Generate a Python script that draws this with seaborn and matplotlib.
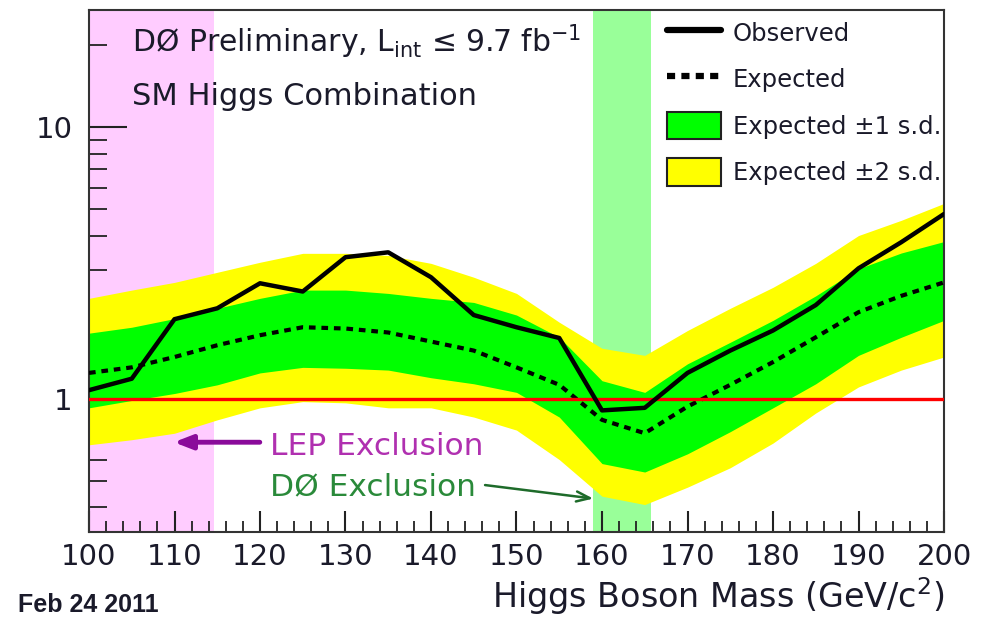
import matplotlib
matplotlib.use("Agg")
import matplotlib.pyplot as plt
import seaborn as sns
import numpy as np
import pandas as pd
from matplotlib import font_manager
from matplotlib.lines import Line2D
from matplotlib.patches import Patch
from matplotlib.ticker import LogLocator, NullFormatter, FixedLocator, FixedFormatter, MultipleLocator

# ---- data (ratio to SM, 95% CL limit) ----
mass = [100, 105, 110, 115, 120, 125, 130, 135, 140, 145, 150, 155, 160, 165, 170, 175, 180, 185, 190, 195, 200]
observed = [1.08, 1.19, 1.97, 2.16, 2.67, 2.49, 3.33, 3.47, 2.81, 2.04, 1.84, 1.68, 0.91, 0.93, 1.25, 1.51, 1.79, 2.22, 3.03, 3.78, 4.80]
expected = [1.25, 1.31, 1.43, 1.58, 1.72, 1.84, 1.82, 1.76, 1.63, 1.51, 1.31, 1.13, 0.84, 0.75, 0.94, 1.13, 1.37, 1.69, 2.09, 2.40, 2.69]
sd1_up = [1.75, 1.84, 1.98, 2.16, 2.35, 2.52, 2.52, 2.45, 2.35, 2.27, 2.04, 1.69, 1.17, 1.06, 1.35, 1.62, 1.95, 2.40, 3.02, 3.45, 3.80]
sd1_dn = [0.93, 0.99, 1.05, 1.13, 1.25, 1.31, 1.30, 1.28, 1.20, 1.14, 1.06, 0.86, 0.58, 0.54, 0.63, 0.76, 0.93, 1.14, 1.45, 1.69, 1.95]
sd2_up = [2.35, 2.52, 2.69, 2.93, 3.19, 3.44, 3.44, 3.38, 3.16, 2.81, 2.45, 1.92, 1.54, 1.45, 1.79, 2.16, 2.58, 3.16, 4.00, 4.55, 5.25]
sd2_dn = [0.68, 0.71, 0.75, 0.84, 0.93, 0.98, 0.97, 0.93, 0.93, 0.86, 0.77, 0.60, 0.44, 0.41, 0.475, 0.56, 0.69, 0.89, 1.11, 1.28, 1.43]
lep_excl = [100, 114.6]
d0_excl = [158.9, 165.7]
x_ticks = [100, 110, 120, 130, 140, 150, 160, 170, 180, 190, 200]
y_ticks = [1, 10]
y_ticklabels = ["1", "10"]

sns.set_theme(style="white")
plt.rcParams["font.family"] = ["DejaVu Sans"]
plt.rcParams["mathtext.default"] = "regular"

installed = {f.name for f in font_manager.fontManager.ttflist}
if "Liberation Sans Narrow" in installed:
    feb_family, feb_size = ["Liberation Sans Narrow", "DejaVu Sans"], 21.5
elif "Liberation Sans" in installed:
    feb_family, feb_size = ["Liberation Sans", "DejaVu Sans"], 18
else:
    feb_family, feb_size = ["DejaVu Sans"], 15.5

TXT = "#1a1a2a"

df = pd.DataFrame({"mass": mass, "observed": observed, "expected": expected,
                   "sd1_up": sd1_up, "sd1_dn": sd1_dn, "sd2_up": sd2_up, "sd2_dn": sd2_dn})

fig = plt.figure(figsize=(9.88, 6.18), dpi=100)
ax = fig.add_axes([89 / 988, 1 - 532 / 618, (944 - 89) / 988, (532 - 10) / 618])
ax.set_yscale("log")
ax.set_xlim(100, 200)
ax.set_ylim(0.325, 27)

ax.axvspan(*lep_excl, color="#ffccff", lw=0, zorder=0)
ax.axvspan(*d0_excl, color="#99ff99", lw=0, zorder=0)

ax.fill_between(df["mass"], df["sd2_dn"], df["sd2_up"], color="#ffff00", lw=0, zorder=1)
ax.fill_between(df["mass"], df["sd1_dn"], df["sd1_up"], color="#00ff00", lw=0, zorder=2)

sns.lineplot(data=df, x="mass", y="expected", ax=ax, color="black", lw=3.0,
             linestyle=(0, (1.6, 1.4)), zorder=4)
ax.axhline(1.0, color="#ff0000", lw=2.4, zorder=5)
sns.lineplot(data=df, x="mass", y="observed", ax=ax, color="black", lw=3.2, zorder=6)

# axes styling (ROOT-like)
for s in ax.spines.values():
    s.set_color("#333333")
    s.set_linewidth(1.5)
ax.xaxis.set_major_locator(FixedLocator(x_ticks))
ax.xaxis.set_minor_locator(MultipleLocator(2))
ax.yaxis.set_major_locator(FixedLocator(y_ticks))
ax.yaxis.set_major_formatter(FixedFormatter(y_ticklabels))
ax.yaxis.set_minor_locator(LogLocator(base=10, subs=np.arange(2, 10)))
ax.yaxis.set_minor_formatter(NullFormatter())
ax.tick_params(axis="x", which="major", direction="in", length=15, width=1.5, color="#222222",
               labelsize=21, pad=8, bottom=True, top=False, labelcolor=TXT)
ax.tick_params(axis="x", which="minor", direction="in", length=8, width=1.3, color="#222222",
               bottom=True, top=False)
ax.tick_params(axis="y", which="major", direction="in", length=27, width=1.5, color="#222222",
               labelsize=21, pad=12, left=True, right=False, labelcolor=TXT)
ax.tick_params(axis="y", which="minor", direction="in", length=13, width=1.3, color="#222222",
               left=True, right=False)
ax.set_xlabel("")
ax.set_ylabel("")

# texts
fig.text(132 / 988, 1 - 52 / 618, r"DØ Preliminary, L$_{int}$ ≤ 9.7 fb$^{-1}$",
         fontsize=21.5, color=TXT, ha="left", va="baseline")
fig.text(132 / 988, 1 - 105 / 618, "SM Higgs Combination",
         fontsize=22, color=TXT, ha="left", va="baseline")
fig.text(944 / 988, 1 - 608 / 618, r"Higgs Boson Mass (GeV/c$^{2}$)", fontsize=24,
         color=TXT, ha="right", va="baseline")
fig.text(18 / 988, 1 - 612 / 618, "Feb 24 2011", fontsize=feb_size, fontweight="bold",
         family=feb_family, color=TXT, ha="left", va="baseline")

fig.text(270 / 988, 1 - 455 / 618, "LEP Exclusion",
         fontsize=22.5, color="#b030b0", ha="left", va="baseline")
fig.text(270 / 988, 1 - 495 / 618, "DØ Exclusion",
         fontsize=22.5, color="#2a8a3a", ha="left", va="baseline")
ax.annotate("", xy=(109.6, 0.695), xytext=(120.3, 0.695),
            arrowprops=dict(arrowstyle="-|>,head_length=0.9,head_width=0.35", color="#8a0a9a", lw=3.5))
ax.annotate("", xy=(159.3, 0.43), xytext=(146.0, 0.485),
            arrowprops=dict(arrowstyle="->,head_length=0.8,head_width=0.3", color="#1e6b2a", lw=1.8))

handles = [Line2D([0], [0], color="black", lw=4.5),
           Line2D([0], [0], color="black", lw=4.5, linestyle=(0, (1.3, 1.0))),
           Patch(facecolor="#00ff00", edgecolor="#222222", lw=1.5),
           Patch(facecolor="#ffff00", edgecolor="#222222", lw=1.5)]
labels = ["Observed", "Expected", "Expected ±1 s.d.", "Expected ±2 s.d."]
leg = ax.legend(handles, labels, loc="upper left", bbox_to_anchor=(667 / 988, 1 - 19 / 618),
                bbox_transform=fig.transFigure, frameon=False, borderpad=0, borderaxespad=0,
                fontsize=17.5, handlelength=2.22, handleheight=1.36, handletextpad=0.5,
                labelspacing=0.78)
for t in leg.get_texts():
    t.set_color(TXT)

fig.savefig("out.png", dpi=100)
